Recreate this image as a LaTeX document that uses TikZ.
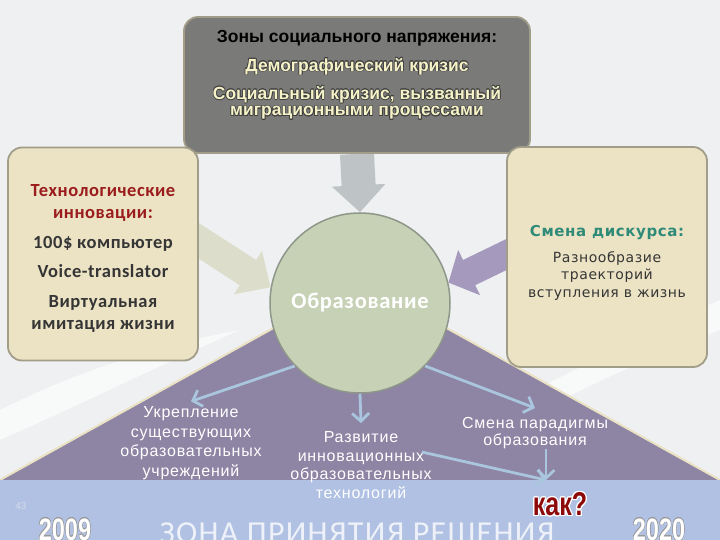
\documentclass[tikz,border=0pt]{standalone}
\usepackage{fontspec}
\setmainfont{Carlito}
\newfontfamily\techfont[LetterSpace=3]{Carlito}
\newfontfamily\headfont{Liberation Sans}
\newfontfamily\wordfont[LetterSpace=5]{Liberation Sans}
\newfontfamily\discfont[LetterSpace=4]{DejaVu Sans}
\newfontfamily\narrowfont[FakeStretch=0.76]{Liberation Sans}
\newfontfamily\zonefont[LetterSpace=4]{Carlito}
\usepackage[copies]{contour}
\contourlength{0.6pt}
\usetikzlibrary{calc,positioning,arrows.meta}

\definecolor{bgwhite}{HTML}{EEF0F1}
\definecolor{boxgray}{HTML}{7A7A78}
\definecolor{boxrim}{HTML}{A29D88}
\definecolor{beige}{HTML}{ECE3C5}
\definecolor{trim}{HTML}{EAE2C4}
\definecolor{sage}{HTML}{C6D1B5}
\definecolor{sagerim}{HTML}{8F968A}
\definecolor{plum}{HTML}{8E84A4}
\definecolor{band}{HTML}{B0C1E3}
\definecolor{skyline}{HTML}{A9C6DE}
\definecolor{greyarr}{HTML}{BEC4C6}
\definecolor{palearr}{HTML}{DCDECB}
\definecolor{lilacarr}{HTML}{A699BE}
\definecolor{techred}{HTML}{9A1C1C}
\definecolor{darktext}{HTML}{353535}
\definecolor{discteal}{HTML}{2F8A78}
\definecolor{palegold}{HTML}{F6F2C8}
\definecolor{kakred}{HTML}{8E0A0A}
\definecolor{zonewhite}{HTML}{EEF1F8}
\definecolor{pagegray}{HTML}{D5DBEA}

\pgfdeclarelayer{under}
\pgfsetlayers{under,main}

\tikzstyle{infobox}=[draw=boxrim, line width=1.8pt, rounded corners=14pt, fill=beige, align=center]
\tikzstyle{thinarr}=[draw=skyline, line width=2.8pt, -{Straight Barb[length=8pt,width=17pt]}]
\tikzstyle{lowtxt}=[text=white, align=center, font=\wordfont\fontsize{16}{19.5}\selectfont]
\tikzstyle{yr}=[anchor=base, text=white, font=\narrowfont\bfseries\fontsize{31}{31}\selectfont]

\begin{document}
\begin{tikzpicture}[x=1pt,y=-1pt,inner sep=0pt]
\useasboundingbox (0,0) rectangle (720,540);
\begin{pgfonlayer}{under}
\fill[bgwhite] (0,0) rectangle (720,540);
\fill[white,opacity=0.6] (0,410) .. controls (80,370) and (160,345) .. (240,330) .. controls (160,365) and (80,405) .. (0,440) -- cycle;
\fill[white,opacity=0.6] (470,420) .. controls (560,380) and (650,330) .. (720,300) -- (720,330) .. controls (640,360) and (560,400) .. (480,440) -- cycle;
\fill[plum] (0,480) -- (360,280) -- (720,480) -- cycle;
\draw[trim, line width=2pt] (0,480) -- (360,280) -- (720,480);
\fill[band] (0,480) rectangle (720,540);
\end{pgfonlayer}

\node (topbox) [draw=boxrim, fill=boxgray, line width=1.8pt, rounded corners=14pt, minimum width=346pt, minimum height=136pt] at (357,85) {};
\node (toptxt) [below=14pt of topbox.north, align=center, font=\headfont\bfseries\fontsize{17.5}{16.5}\selectfont] {Зоны социального напряжения:\\[11pt]
  \textcolor{palegold}{\contour{black!75}{Демографический кризис}}\\[10pt]
  \textcolor{palegold}{\contour{black!75}{Социальный кризис, вызванный}}\\
  \textcolor{palegold}{\contour{black!75}{миграционными процессами}}};

\node (tech) [infobox, minimum width=190pt, minimum height=213pt, text=darktext, font=\techfont\bfseries\fontsize{18.5}{22.5}\selectfont] at (103,254) {\textcolor{techred}{\rule{0pt}{21pt}Технологические}\\
  \textcolor{techred}{инновации:}\\[7pt]
  100\$ компьютер\\[7pt]
  Voice-translator\\[7pt]
  Виртуальная\\имитация жизни};

\node (disc) [infobox, minimum width=200pt, minimum height=220pt, text=darktext, font=\discfont\fontsize{14}{17.5}\selectfont] at (607,257) {\textcolor{discteal}{\bfseries\fontsize{15}{17.5}\selectfont\rule{0pt}{23pt}Смена дискурса:}\\[8pt]
  Разнообразие\\траекторий\\вступления в жизнь};

\node (edu) [circle, fill=sage, draw=sagerim, line width=1.5pt, minimum size=180pt, text=white, font=\techfont\bfseries\fontsize{22.5}{22.5}\selectfont] at (360,303) {\raisebox{5pt}{Образование}};

\begin{pgfonlayer}{under}
\draw[greyarr, line width=34pt, -{Triangle[length=27pt,width=52pt]}] (topbox.south) -- (edu.north);
\draw[palearr, line width=30pt, -{Triangle[length=27pt,width=50pt]}] ($(tech.east)+(-20,-26)$) -- (edu.170);
\draw[lilacarr, line width=28pt, -{Triangle[length=23pt,width=49pt]}] ($(disc.west)+(20,-12)$) -- (edu.13);
\end{pgfonlayer}

\node (strong) [lowtxt] at (191,443) {Укрепление\\существующих\\образовательных\\учреждений};
\node (devel) [lowtxt, font=\wordfont\fontsize{16}{18.7}\selectfont] at (361,465) {Развитие\\инновационных\\образовательных\\технологий};
\node (parad) [lowtxt, font=\wordfont\fontsize{16}{17}\selectfont] at (535,433) {Смена парадигмы\\образования};
\coordinate (meet) at (546,480);

\draw[thinarr] (edu.224) -- ([yshift=5pt]strong.north);
\draw[thinarr] (edu.south) -- ([yshift=8pt]devel.north);
\draw[thinarr] (edu.-44) -- ([yshift=9pt]parad.north);
\draw[thinarr] ($(devel.east)+(-10,-13)$) -- (meet);
\draw[thinarr] ($(parad.south)+(11,0)$) -- (meet);

\node (zone) [anchor=base, text=zonewhite, font=\zonefont\fontsize{32}{32}\selectfont] at (357,543) {ЗОНА ПРИНЯТИЯ РЕШЕНИЯ};
\node (kak) [text=kakred, font=\narrowfont\bfseries\fontsize{33}{33}\selectfont] at (560,505) {\contourlength{1.2pt}\contour{white}{как?}};
\node (ystart) [yr] at (65,540) {\contourlength{0.35pt}\contour{gray!80}{2009}};
\node (yend) [yr] at (659,540) {\contourlength{0.35pt}\contour{gray!80}{2020}};
\node (pnum) [text=pagegray, font=\headfont\fontsize{10}{10}\selectfont] at (21,506) {43};
\end{tikzpicture}
\end{document}
